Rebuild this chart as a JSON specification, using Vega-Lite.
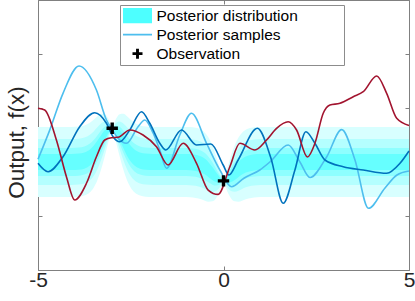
{
  "$schema": "https://vega.github.io/schema/vega-lite/v6.json",
  "width": 371,
  "height": 270,
  "autosize": "none",
  "padding": {"left": 38, "top": 0, "right": 6, "bottom": 31},
  "background": "white",
  "config": {
    "view": {"stroke": "#808080", "strokeWidth": 1},
    "font": "Liberation Sans",
    "legend": {
      "orient": "none",
      "legendX": 82,
      "legendY": 5,
      "fillColor": "white",
      "strokeColor": "#8c8c8c",
      "padding": 1.5,
      "labelFontSize": 15.5,
      "labelFont": "Liberation Sans",
      "labelColor": "#000000",
      "symbolSize": 841,
      "symbolStrokeWidth": 0,
      "symbolOpacity": 1,
      "symbolOffset": 1.5,
      "labelOffset": 4.5,
      "clipHeight": 18.3,
      "rowPadding": 0
    }
  },
  "datasets": {
    "band": [
      {"x": -5, "l1": -0.65, "h1": 0.65, "l2": -0.425, "h2": 0.425, "l3": -0.26, "h3": 0.26, "l4": -0.15, "h4": 0.15},
      {"x": -4.1, "l1": -0.65, "h1": 0.65, "l2": -0.425, "h2": 0.425, "l3": -0.26, "h3": 0.26, "l4": -0.15, "h4": 0.15},
      {"x": -3.9, "l1": -0.643, "h1": 0.657, "l2": -0.418, "h2": 0.432, "l3": -0.253, "h3": 0.267, "l4": -0.143, "h4": 0.157},
      {"x": -3.75, "l1": -0.622, "h1": 0.677, "l2": -0.397, "h2": 0.452, "l3": -0.232, "h3": 0.287, "l4": -0.123, "h4": 0.177},
      {"x": -3.6, "l1": -0.56, "h1": 0.728, "l2": -0.337, "h2": 0.505, "l3": -0.174, "h3": 0.342, "l4": -0.065, "h4": 0.233},
      {"x": -3.5, "l1": -0.475, "h1": 0.784, "l2": -0.257, "h2": 0.566, "l3": -0.097, "h3": 0.406, "l4": 0.009, "h4": 0.3},
      {"x": -3.4, "l1": -0.338, "h1": 0.847, "l2": -0.133, "h2": 0.642, "l3": 0.018, "h3": 0.492, "l4": 0.118, "h4": 0.392},
      {"x": -3.3, "l1": -0.141, "h1": 0.893, "l2": 0.038, "h2": 0.714, "l3": 0.169, "h3": 0.583, "l4": 0.257, "h4": 0.495},
      {"x": -3.2, "l1": 0.107, "h1": 0.886, "l2": 0.242, "h2": 0.751, "l3": 0.341, "h3": 0.652, "l4": 0.407, "h4": 0.586},
      {"x": -3.1, "l1": 0.376, "h1": 0.797, "l2": 0.449, "h2": 0.724, "l3": 0.502, "h3": 0.671, "l4": 0.538, "h4": 0.635},
      {"x": -3.0, "l1": 0.6, "h1": 0.64, "l2": 0.607, "h2": 0.633, "l3": 0.612, "h3": 0.628, "l4": 0.615, "h4": 0.625},
      {"x": -2.9, "l1": 0.376, "h1": 0.797, "l2": 0.449, "h2": 0.724, "l3": 0.502, "h3": 0.671, "l4": 0.538, "h4": 0.635},
      {"x": -2.8, "l1": 0.107, "h1": 0.886, "l2": 0.242, "h2": 0.751, "l3": 0.341, "h3": 0.652, "l4": 0.407, "h4": 0.586},
      {"x": -2.7, "l1": -0.141, "h1": 0.893, "l2": 0.038, "h2": 0.714, "l3": 0.169, "h3": 0.583, "l4": 0.257, "h4": 0.495},
      {"x": -2.6, "l1": -0.338, "h1": 0.847, "l2": -0.133, "h2": 0.642, "l3": 0.018, "h3": 0.492, "l4": 0.118, "h4": 0.392},
      {"x": -2.5, "l1": -0.475, "h1": 0.784, "l2": -0.257, "h2": 0.566, "l3": -0.097, "h3": 0.406, "l4": 0.009, "h4": 0.3},
      {"x": -2.4, "l1": -0.56, "h1": 0.728, "l2": -0.337, "h2": 0.505, "l3": -0.174, "h3": 0.342, "l4": -0.065, "h4": 0.233},
      {"x": -2.25, "l1": -0.622, "h1": 0.677, "l2": -0.397, "h2": 0.452, "l3": -0.232, "h3": 0.287, "l4": -0.123, "h4": 0.177},
      {"x": -2.1, "l1": -0.643, "h1": 0.657, "l2": -0.418, "h2": 0.432, "l3": -0.253, "h3": 0.267, "l4": -0.143, "h4": 0.157},
      {"x": -1.9, "l1": -0.65, "h1": 0.65, "l2": -0.425, "h2": 0.425, "l3": -0.26, "h3": 0.26, "l4": -0.15, "h4": 0.15},
      {"x": -1.5, "l1": -0.65, "h1": 0.65, "l2": -0.425, "h2": 0.425, "l3": -0.26, "h3": 0.26, "l4": -0.15, "h4": 0.15},
      {"x": -1.1, "l1": -0.65, "h1": 0.65, "l2": -0.425, "h2": 0.425, "l3": -0.26, "h3": 0.26, "l4": -0.15, "h4": 0.15},
      {"x": -0.9, "l1": -0.654, "h1": 0.646, "l2": -0.429, "h2": 0.421, "l3": -0.264, "h3": 0.256, "l4": -0.154, "h4": 0.146},
      {"x": -0.75, "l1": -0.665, "h1": 0.634, "l2": -0.44, "h2": 0.409, "l3": -0.275, "h3": 0.244, "l4": -0.165, "h4": 0.135},
      {"x": -0.6, "l1": -0.691, "h1": 0.597, "l2": -0.469, "h2": 0.374, "l3": -0.305, "h3": 0.21, "l4": -0.196, "h4": 0.101},
      {"x": -0.5, "l1": -0.717, "h1": 0.542, "l2": -0.499, "h2": 0.324, "l3": -0.339, "h3": 0.165, "l4": -0.233, "h4": 0.058},
      {"x": -0.4, "l1": -0.736, "h1": 0.449, "l2": -0.531, "h2": 0.244, "l3": -0.381, "h3": 0.093, "l4": -0.281, "h4": -0.007},
      {"x": -0.3, "l1": -0.729, "h1": 0.305, "l2": -0.55, "h2": 0.126, "l3": -0.419, "h3": -0.006, "l4": -0.332, "h4": -0.093},
      {"x": -0.2, "l1": -0.67, "h1": 0.109, "l2": -0.535, "h2": -0.026, "l3": -0.436, "h3": -0.124, "l4": -0.37, "h4": -0.19},
      {"x": -0.1, "l1": -0.542, "h1": -0.12, "l2": -0.469, "h2": -0.193, "l3": -0.416, "h3": -0.247, "l4": -0.38, "h4": -0.282},
      {"x": 0.0, "l1": -0.37, "h1": -0.33, "l2": -0.363, "h2": -0.337, "l3": -0.358, "h3": -0.342, "l4": -0.355, "h4": -0.345},
      {"x": 0.1, "l1": -0.542, "h1": -0.12, "l2": -0.469, "h2": -0.193, "l3": -0.416, "h3": -0.247, "l4": -0.38, "h4": -0.282},
      {"x": 0.2, "l1": -0.67, "h1": 0.109, "l2": -0.535, "h2": -0.026, "l3": -0.436, "h3": -0.124, "l4": -0.37, "h4": -0.19},
      {"x": 0.3, "l1": -0.729, "h1": 0.305, "l2": -0.55, "h2": 0.126, "l3": -0.419, "h3": -0.006, "l4": -0.332, "h4": -0.093},
      {"x": 0.4, "l1": -0.736, "h1": 0.449, "l2": -0.531, "h2": 0.244, "l3": -0.381, "h3": 0.093, "l4": -0.281, "h4": -0.007},
      {"x": 0.5, "l1": -0.717, "h1": 0.542, "l2": -0.499, "h2": 0.324, "l3": -0.339, "h3": 0.165, "l4": -0.233, "h4": 0.058},
      {"x": 0.6, "l1": -0.691, "h1": 0.597, "l2": -0.469, "h2": 0.374, "l3": -0.305, "h3": 0.21, "l4": -0.196, "h4": 0.101},
      {"x": 0.75, "l1": -0.665, "h1": 0.634, "l2": -0.44, "h2": 0.409, "l3": -0.275, "h3": 0.244, "l4": -0.165, "h4": 0.135},
      {"x": 0.9, "l1": -0.654, "h1": 0.646, "l2": -0.429, "h2": 0.421, "l3": -0.264, "h3": 0.256, "l4": -0.154, "h4": 0.146},
      {"x": 1.1, "l1": -0.65, "h1": 0.65, "l2": -0.425, "h2": 0.425, "l3": -0.26, "h3": 0.26, "l4": -0.15, "h4": 0.15},
      {"x": 5, "l1": -0.65, "h1": 0.65, "l2": -0.425, "h2": 0.425, "l3": -0.26, "h3": 0.26, "l4": -0.15, "h4": 0.15}
    ],
    "samples": [
      {"s": "a", "x": -5.0, "y": 0.05},
      {"s": "a", "x": -4.684, "y": 0.59},
      {"s": "a", "x": -4.326, "y": 1.272},
      {"s": "a", "x": -3.894, "y": 1.778},
      {"s": "a", "x": -3.425, "y": 1.333},
      {"s": "a", "x": -3.155, "y": 0.778},
      {"s": "a", "x": -3.02, "y": 0.624},
      {"s": "a", "x": -2.842, "y": 0.439},
      {"s": "a", "x": -2.615, "y": 0.346},
      {"s": "a", "x": -2.302, "y": 0.654},
      {"s": "a", "x": -2.122, "y": 0.778},
      {"s": "a", "x": -1.898, "y": 0.537},
      {"s": "a", "x": -1.717, "y": 0.222},
      {"s": "a", "x": -1.536, "y": -0.117},
      {"s": "a", "x": -1.178, "y": 0.5},
      {"s": "a", "x": -0.862, "y": 0.902},
      {"s": "a", "x": -0.457, "y": 0.346},
      {"s": "a", "x": -0.098, "y": -0.148},
      {"s": "a", "x": 0.217, "y": -0.457},
      {"s": "a", "x": 0.55, "y": -0.3},
      {"s": "a", "x": 0.98, "y": -0.148},
      {"s": "a", "x": 1.25, "y": 0.0},
      {"s": "a", "x": 1.744, "y": 0.315},
      {"s": "a", "x": 2.06, "y": 0.0},
      {"s": "a", "x": 2.33, "y": -0.287},
      {"s": "a", "x": 2.78, "y": 0.093},
      {"s": "a", "x": 3.185, "y": 0.6},
      {"s": "a", "x": 3.544, "y": 0.037},
      {"s": "a", "x": 3.907, "y": -0.857},
      {"s": "a", "x": 4.353, "y": -0.48},
      {"s": "a", "x": 4.676, "y": -0.24},
      {"s": "a", "x": 5.0, "y": -0.167},
      {"s": "b", "x": -5.0, "y": -0.024},
      {"s": "b", "x": -4.73, "y": -0.18},
      {"s": "b", "x": -4.326, "y": 0.098},
      {"s": "b", "x": -3.875, "y": 0.654},
      {"s": "b", "x": -3.47, "y": 0.913},
      {"s": "b", "x": -3.155, "y": 0.717},
      {"s": "b", "x": -2.977, "y": 0.469},
      {"s": "b", "x": -2.796, "y": 0.376},
      {"s": "b", "x": -2.526, "y": 0.593},
      {"s": "b", "x": -2.211, "y": 0.931},
      {"s": "b", "x": -1.987, "y": 0.717},
      {"s": "b", "x": -1.717, "y": 0.346},
      {"s": "b", "x": -1.555, "y": 0.222},
      {"s": "b", "x": -1.132, "y": 0.593},
      {"s": "b", "x": -0.727, "y": 0.315},
      {"s": "b", "x": -0.341, "y": 0.333},
      {"s": "b", "x": -0.009, "y": -0.056},
      {"s": "b", "x": 0.145, "y": -0.24},
      {"s": "b", "x": 0.395, "y": 0.037},
      {"s": "b", "x": 0.913, "y": 0.624},
      {"s": "b", "x": 1.277, "y": 0.074},
      {"s": "b", "x": 1.609, "y": -0.765},
      {"s": "b", "x": 1.925, "y": -0.148},
      {"s": "b", "x": 2.222, "y": 0.561},
      {"s": "b", "x": 2.464, "y": 0.346},
      {"s": "b", "x": 2.734, "y": 0.037},
      {"s": "b", "x": 3.228, "y": -0.087},
      {"s": "b", "x": 3.767, "y": -0.148},
      {"s": "b", "x": 4.398, "y": -0.209},
      {"s": "b", "x": 4.757, "y": -0.024},
      {"s": "b", "x": 5.0, "y": 0.204},
      {"s": "c", "x": -5.0, "y": 0.994},
      {"s": "c", "x": -4.819, "y": 0.963},
      {"s": "c", "x": -4.504, "y": 0.407},
      {"s": "c", "x": -4.234, "y": -0.272},
      {"s": "c", "x": -4.01, "y": -0.704},
      {"s": "c", "x": -3.694, "y": -0.394},
      {"s": "c", "x": -3.425, "y": 0.098},
      {"s": "c", "x": -3.201, "y": 0.407},
      {"s": "c", "x": -3.02, "y": 0.45},
      {"s": "c", "x": -2.842, "y": 0.457},
      {"s": "c", "x": -2.526, "y": 0.593},
      {"s": "c", "x": -2.168, "y": 0.5},
      {"s": "c", "x": -1.806, "y": 0.283},
      {"s": "c", "x": -1.493, "y": -0.056},
      {"s": "c", "x": -1.088, "y": 0.346},
      {"s": "c", "x": -0.727, "y": -0.024},
      {"s": "c", "x": -0.414, "y": -0.519},
      {"s": "c", "x": -0.144, "y": -0.6},
      {"s": "c", "x": 0.171, "y": -0.087},
      {"s": "c", "x": 0.441, "y": 0.346},
      {"s": "c", "x": 0.845, "y": 0.222},
      {"s": "c", "x": 1.161, "y": 0.407},
      {"s": "c", "x": 1.431, "y": 0.624},
      {"s": "c", "x": 1.744, "y": 0.746},
      {"s": "c", "x": 1.97, "y": 0.593},
      {"s": "c", "x": 2.262, "y": 0.093},
      {"s": "c", "x": 2.464, "y": 0.346},
      {"s": "c", "x": 2.688, "y": 0.902},
      {"s": "c", "x": 2.869, "y": 1.056},
      {"s": "c", "x": 3.139, "y": 1.087},
      {"s": "c", "x": 3.498, "y": 1.209},
      {"s": "c", "x": 3.767, "y": 1.302},
      {"s": "c", "x": 4.129, "y": 1.593},
      {"s": "c", "x": 4.398, "y": 1.272},
      {"s": "c", "x": 4.668, "y": 0.809},
      {"s": "c", "x": 5.0, "y": 0.676}
    ],
    "obs": [
      {"x": -3.0, "y": 0.624},
      {"x": 0.0, "y": -0.35}
    ],
    "legend": [
      {"cat": "Posterior distribution", "x": 100, "y": 100},
      {"cat": "Posterior samples", "x": 100, "y": 100},
      {"cat": "Observation", "x": 100, "y": 100}
    ]
  },
  "layer": [
    {
      "data": {"name": "band"},
      "mark": {"type": "area", "interpolate": "monotone", "fill": "#d8ffff", "stroke": null},
      "encoding": {
        "x": {"field": "x", "type": "quantitative", "scale": {"domain": [-5, 5], "nice": false, "zero": false},
          "axis": {"orient": "bottom", "values": [-5, 0, 5], "labelExpr": "'' + datum.value", "labelFontSize": 21, "labelFont": "Liberation Sans", "labelColor": "#262626", "labelFlush": false, "labelOverlap": false, "labelBound": false, "labelPadding": 3, "tickSize": -4, "tickColor": "#808080", "domain": false, "grid": false, "title": null}},
        "y": {"field": "l1", "type": "quantitative", "scale": {"domain": [-2, 3], "nice": false, "zero": false},
          "axis": {"orient": "left", "values": [-2, -1, 0, 1, 2, 3], "labels": false, "tickSize": -4, "tickColor": "#808080", "domain": false, "grid": false, "title": "Output, f(x)", "titleFontSize": 22.5, "titleFont": "Liberation Sans", "titleFontWeight": "normal", "titleColor": "#262626", "titlePadding": 9, "titleY": 142}},
        "y2": {"field": "h1"}
      }
    },
    {
      "data": {"name": "band"},
      "mark": {"type": "area", "interpolate": "monotone", "fill": "#b4ffff", "stroke": null},
      "encoding": {
        "x": {"field": "x", "type": "quantitative", "axis": null},
        "y": {"field": "l2", "type": "quantitative", "axis": null},
        "y2": {"field": "h2"}
      }
    },
    {
      "data": {"name": "band"},
      "mark": {"type": "area", "interpolate": "monotone", "fill": "#8effff", "stroke": null},
      "encoding": {
        "x": {"field": "x", "type": "quantitative", "axis": null},
        "y": {"field": "l3", "type": "quantitative", "axis": null},
        "y2": {"field": "h3"}
      }
    },
    {
      "data": {"name": "band"},
      "mark": {"type": "area", "interpolate": "monotone", "fill": "#66ffff", "stroke": null},
      "encoding": {
        "x": {"field": "x", "type": "quantitative", "axis": null},
        "y": {"field": "l4", "type": "quantitative", "axis": null},
        "y2": {"field": "h4"}
      }
    },
    {
      "data": {"name": "samples"},
      "transform": [{"filter": "datum.s === 'a'"}],
      "mark": {"type": "line", "interpolate": "monotone", "stroke": "#4dbeee", "strokeWidth": 1.6},
      "encoding": {
        "x": {"field": "x", "type": "quantitative", "axis": null},
        "y": {"field": "y", "type": "quantitative", "axis": null}
      }
    },
    {
      "data": {"name": "samples"},
      "transform": [{"filter": "datum.s === 'b'"}],
      "mark": {"type": "line", "interpolate": "monotone", "stroke": "#0072bd", "strokeWidth": 1.6},
      "encoding": {
        "x": {"field": "x", "type": "quantitative", "axis": null},
        "y": {"field": "y", "type": "quantitative", "axis": null}
      }
    },
    {
      "data": {"name": "samples"},
      "transform": [{"filter": "datum.s === 'c'"}],
      "mark": {"type": "line", "interpolate": "monotone", "stroke": "#a2142f", "strokeWidth": 1.6},
      "encoding": {
        "x": {"field": "x", "type": "quantitative", "axis": null},
        "y": {"field": "y", "type": "quantitative", "axis": null}
      }
    },
    {
      "data": {"name": "obs"},
      "mark": {"type": "point", "filled": true, "fill": "#000000", "strokeWidth": 0, "opacity": 1, "size": 130, "shape": "M-0.3,-1H0.3V-0.3H1V0.3H0.3V1H-0.3V0.3H-1V-0.3H-0.3Z"},
      "encoding": {
        "x": {"field": "x", "type": "quantitative",
          "axis": {"orient": "top", "values": [-5, 0, 5], "labels": false, "tickSize": -4, "tickColor": "#808080", "domain": false, "grid": false, "title": null}},
        "y": {"field": "y", "type": "quantitative",
          "axis": {"orient": "right", "values": [-2, -1, 0, 1, 2, 3], "labels": false, "tickSize": -4, "tickColor": "#808080", "domain": false, "grid": false, "title": null}}
      }
    },
    {
      "data": {"name": "legend"},
      "mark": {"type": "point", "filled": true, "clip": true},
      "encoding": {
        "x": {"field": "x", "type": "quantitative", "axis": null},
        "y": {"field": "y", "type": "quantitative", "axis": null},
        "shape": {"field": "cat", "type": "nominal", "title": " ",
          "scale": {"domain": ["Posterior distribution", "Posterior samples", "Observation"],
            "range": ["M-1,-0.52H1V0.52H-1Z", "M-1,-0.055H1V0.055H-1Z", "M-0.1,-0.345H0.1V-0.1H0.345V0.1H0.1V0.345H-0.1V0.1H-0.345V-0.1H-0.1Z"]},
          "legend": {"titleOrient": "right", "titlePadding": 45}},
        "color": {"field": "cat", "type": "nominal", "title": " ",
          "scale": {"domain": ["Posterior distribution", "Posterior samples", "Observation"],
            "range": ["#4dffff", "#4dbeee", "#000000"]},
          "legend": {"titleOrient": "right", "titlePadding": 45}}
      }
    }
  ],
  "resolve": {"axis": {"x": "independent", "y": "independent"}}
}
